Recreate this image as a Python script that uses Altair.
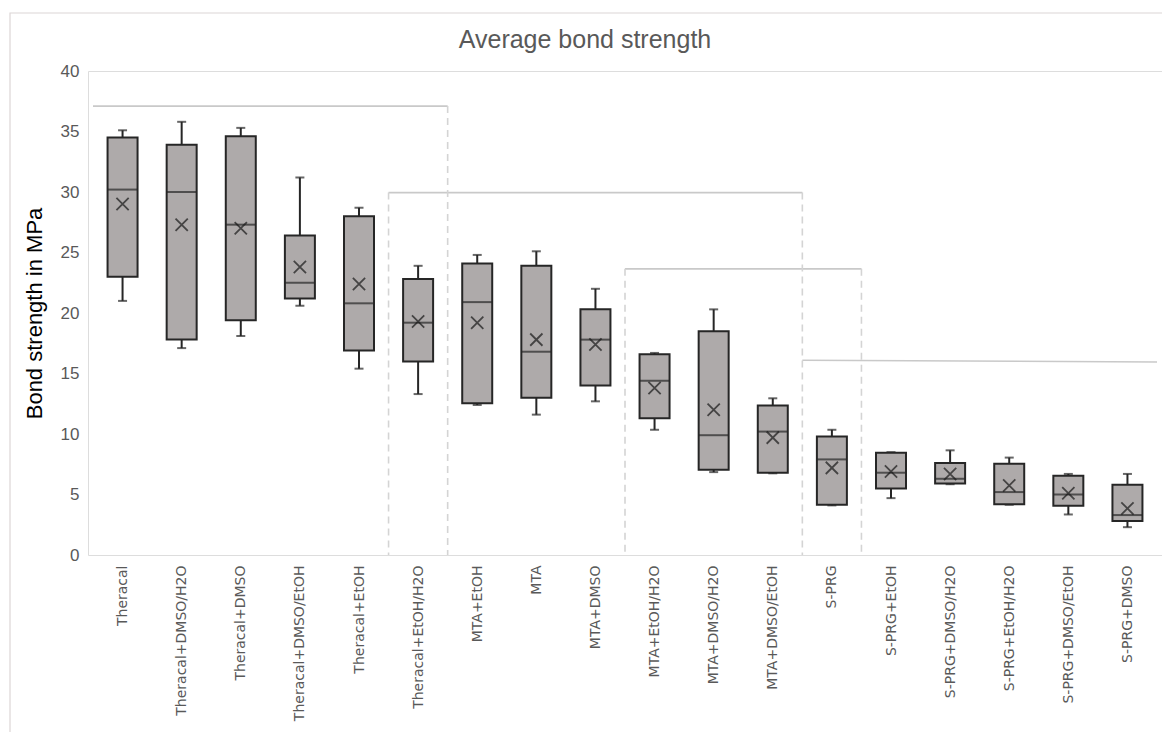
import json
import altair as alt
import pandas as pd

chart_title = "Average bond strength"
categories = ["Theracal", "Theracal+DMSO/H2O", "Theracal+DMSO", "Theracal+DMSO/EtOH",
              "Theracal+EtOH", "Theracal+EtOH/H2O", "MTA+EtOH", "MTA", "MTA+DMSO",
              "MTA+EtOH/H2O", "MTA+DMSO/H2O", "MTA+DMSO/EtOH", "S-PRG", "S-PRG+EtOH",
              "S-PRG+DMSO/H2O", "S-PRG+EtOH/H2O", "S-PRG+DMSO/EtOH", "S-PRG+DMSO"]
mins   = [21.0, 17.1, 18.1, 20.6, 15.4, 13.3, 12.4, 11.6, 12.7, 10.35, 6.85, 6.75, 4.1, 4.7, 5.85, 4.15, 3.35, 2.3]
q1s    = [23.0, 17.8, 19.4, 21.2, 16.9, 16.0, 12.55, 13.0, 14.0, 11.3, 7.05, 6.8, 4.15, 5.5, 5.9, 4.2, 4.07, 2.8]
medians= [30.2, 30.0, 27.3, 22.5, 20.8, 19.2, 20.9, 16.8, 17.8, 14.4, 9.9, 10.2, 7.9, 6.8, 6.3, 5.2, 5.0, 3.3]
q3s    = [34.5, 33.9, 34.6, 26.4, 28.0, 22.8, 24.1, 23.9, 20.3, 16.6, 18.5, 12.35, 9.8, 8.45, 7.6, 7.55, 6.55, 5.8]
maxs   = [35.1, 35.8, 35.3, 31.2, 28.7, 23.9, 24.8, 25.1, 22.0, 16.7, 20.3, 12.95, 10.35, 8.5, 8.65, 8.05, 6.7, 6.7]
means  = [29.0, 27.3, 27.0, 23.8, 22.4, 19.3, 19.2, 17.8, 17.4, 13.8, 12.0, 9.7, 7.2, 6.9, 6.7, 5.75, 5.1, 3.85]

# grouping brackets (x in category-index units, boundaries between categories)
hline_x1 = [-0.5, 4.5, 8.5, 11.5]
hline_x2 = [5.5, 11.5, 12.5, 17.5]
hline_y1 = [37.1, 29.95, 23.65, 16.1]
hline_y2 = [37.1, 29.95, 23.65, 15.95]
vline_x  = [5.5, 4.5, 11.5, 8.5, 12.5]
vline_top = [37.1, 29.95, 29.95, 23.65, 23.65]

df = pd.DataFrame({"i": list(range(len(categories))), "name": categories, "lo": mins,
                   "q1": q1s, "med": medians, "q3": q3s, "hi": maxs, "mean": means})
hl = pd.DataFrame({"x1": hline_x1, "x2": hline_x2, "y1": hline_y1, "y2": hline_y2})
vl = pd.DataFrame({"x": vline_x, "top": vline_top, "bottom": [0] * len(vline_x)})

W, H = 1074, 484
xscale = alt.Scale(domain=[-0.5, 17.5], nice=False, zero=False)
yscale = alt.Scale(domain=[0, 40], nice=False)
label_expr = json.dumps(categories) + "[datum.value]"

xaxis = alt.Axis(values=list(range(len(categories))), labelExpr=label_expr, labelAngle=-90,
                 labelFont="DejaVu Sans", labelFontSize=14, labelColor="#595959",
                 labelPadding=10, title=None, domain=False, ticks=False, grid=False,
                 labelOverlap=False, labelBound=False, labelFlush=False)
yaxis = alt.Axis(values=[0, 5, 10, 15, 20, 25, 30, 35, 40], labelFont="Liberation Sans",
                 labelFontSize=17, labelColor="#595959", labelPadding=9,
                 title="Bond strength in MPa", titleFont="Liberation Sans", titleFontSize=22,
                 titleFontWeight="normal", titleColor="#000000", titlePadding=14,
                 domain=False, ticks=False, grid=False)

base = alt.Chart(df)
one = pd.DataFrame({"t": [chart_title]})

border = alt.Chart(one).mark_rect(
    fill="transparent", stroke="#dcd6d6", strokeWidth=1.2
).encode(x=alt.value(-78), x2=alt.value(W + 20), y=alt.value(-58), y2=alt.value(H + 220))

title_txt = alt.Chart(one).mark_text(
    font="Liberation Sans", fontSize=25, color="#595959", align="center", baseline="alphabetic"
).encode(text="t:N", x=alt.value(W / 2 - 40), y=alt.value(-23))

hlines = alt.Chart(hl).mark_rule(color="#c9c9c9", strokeWidth=1.6).encode(
    x=alt.X("x1:Q", scale=xscale, axis=xaxis), x2="x2:Q",
    y=alt.Y("y1:Q", scale=yscale, axis=yaxis), y2="y2:Q")
vlines = alt.Chart(vl).mark_rule(color="#d4d4d4", strokeWidth=1.6, strokeDash=[7, 5]).encode(
    x=alt.X("x:Q", scale=xscale), y=alt.Y("top:Q", scale=yscale), y2="bottom:Q")

ink = "#262626"
wlow = base.mark_rule(color=ink, strokeWidth=2).encode(
    x=alt.X("i:Q", scale=xscale), y=alt.Y("lo:Q", scale=yscale), y2="q1:Q")
whigh = base.mark_rule(color=ink, strokeWidth=2).encode(
    x=alt.X("i:Q", scale=xscale), y=alt.Y("q3:Q", scale=yscale), y2="hi:Q")
cap_lo = base.mark_tick(color=ink, orient="horizontal", size=9, thickness=2).encode(
    x=alt.X("i:Q", scale=xscale), y=alt.Y("lo:Q", scale=yscale))
cap_hi = base.mark_tick(color=ink, orient="horizontal", size=9, thickness=2).encode(
    x=alt.X("i:Q", scale=xscale), y=alt.Y("hi:Q", scale=yscale))
boxes = base.mark_bar(size=30, fill="#aeaaaa", stroke=ink, strokeWidth=2).encode(
    x=alt.X("i:Q", scale=xscale), y=alt.Y("q1:Q", scale=yscale), y2="q3:Q")
med = base.mark_tick(color=ink, orient="horizontal", size=30, thickness=2).encode(
    x=alt.X("i:Q", scale=xscale), y=alt.Y("med:Q", scale=yscale))
mean_pt = base.mark_point(shape="M-1,-1L1,1M-1,1L1,-1", size=150, filled=False,
                          color="#1a1a1a", strokeWidth=1.8).encode(
    x=alt.X("i:Q", scale=xscale), y=alt.Y("mean:Q", scale=yscale))

chart = alt.layer(border, title_txt, hlines, vlines, wlow, whigh, cap_lo, cap_hi, boxes, med, mean_pt).properties(
    width=W, height=H,
    autosize=alt.AutoSizeParams(type="none"),
    padding={"left": 80, "top": 63, "right": 0, "bottom": 177},
).configure_view(stroke="#d9d9d9", strokeWidth=1.5).configure(background="white")

chart.save("out.html", embed_options={"renderer": "svg", "actions": False})
